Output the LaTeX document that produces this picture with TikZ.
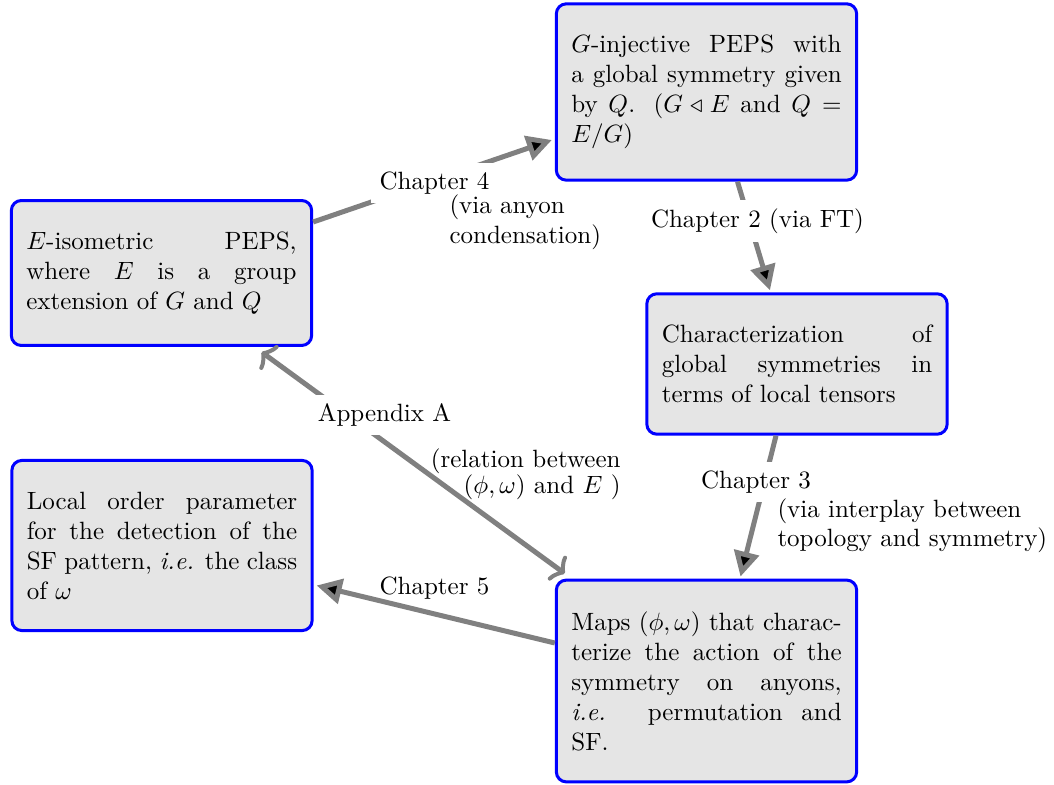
\documentclass[tikz,border=0pt]{standalone}
\usepackage{amssymb}
\usetikzlibrary{arrows.meta,calc}
\begin{document}
\begin{tikzpicture}[x=0.4pt,y=-0.4pt,
  box/.style={draw=blue, very thick, fill=gray!20, rounded corners=4pt,
    text width=3.8cm, align=justify, inner xsep=6pt, inner ysep=12.5pt},
  conn/.style={draw=gray, line width=2pt, -{Triangle[length=10pt,width=10pt,fill=black]}},
  twoway/.style={draw=gray, line width=2pt,
    {Classical TikZ Rightarrow[length=4.5pt,width=12pt]}-{Classical TikZ Rightarrow[length=4.5pt,width=12pt]}},
  lab/.style={fill=white},
  note/.style={inner sep=0pt}]
\useasboundingbox (0,0) rectangle (1054,785);
\node[box] (A) at (161.5,273) {$E$-isometric PEPS, where $E$ is a group extension of $G$ and $Q$};
\node[box] (B) at (706.5,92) {$G$-injective PEPS with a global symmetry given by $Q$. ($G \triangleleft E$ and $Q = E/G$)};
\node[box] (C) at (797,364) {Characterization of global symmetries in terms of local tensors};
\node[box] (D) at (162,545.5) {Local order parameter for the detection of the SF pattern, \textit{i.e.} the class of $\omega$};
\node[box] (E) at (706.5,681) {Maps $(\phi,\omega)$ that charac-\linebreak terize the action of the\linebreak symmetry on anyons,\linebreak \textit{i.e.} permutation and\linebreak SF.};

\coordinate (a1) at ($(A.east)+(0,-51)$);
\coordinate (b1) at ($(B.west)+(-3,48)$);
\coordinate (b2) at ($(B.south)+(31,0)$);
\coordinate (c1) at ($(C.north)+(-27,-2)$);
\coordinate (c2) at ($(C.south)+(-21,0)$);
\coordinate (e1) at ($(E.north)+(34,-2)$);
\coordinate (e2) at ($(E.west)+(0,-38)$);
\coordinate (d1) at ($(D.east)+(3,40)$);
\coordinate (a2) at ($(A.south)+(100,5)$);
\coordinate (e3) at ($(E.north west)+(10,-5)$);

\draw[conn] (a1) -- (b1);
\draw[conn] (b2) -- (c1);
\draw[conn] (c2) -- (e1);
\draw[conn] (e2) -- (d1);
\draw[twoway] (a2) -- (e3);

\node[lab] (l4) at (434.5,183) {Chapter 4};
\node[note, anchor=base west, align=left] (n4) at (449,244) {(via anyon\\condensation)};
\node[lab] (l2) at (757.5,221) {Chapter 2 (via FT)};
\node[lab] (l3) at (756,482) {Chapter 3};
\node[note, anchor=base west, align=left] (n3) at (777,547) {(via interplay between\\topology and symmetry)};
\node[lab] (lA) at (384.5,415) {Appendix A};
\node[note, anchor=base east, align=right] (nA) at (621,493) {(relation between\\[-2pt]$(\phi,\omega)$ and $E$ )};
\node[note] (l5) at (434.5,588) {Chapter 5};
\end{tikzpicture}
\end{document}
